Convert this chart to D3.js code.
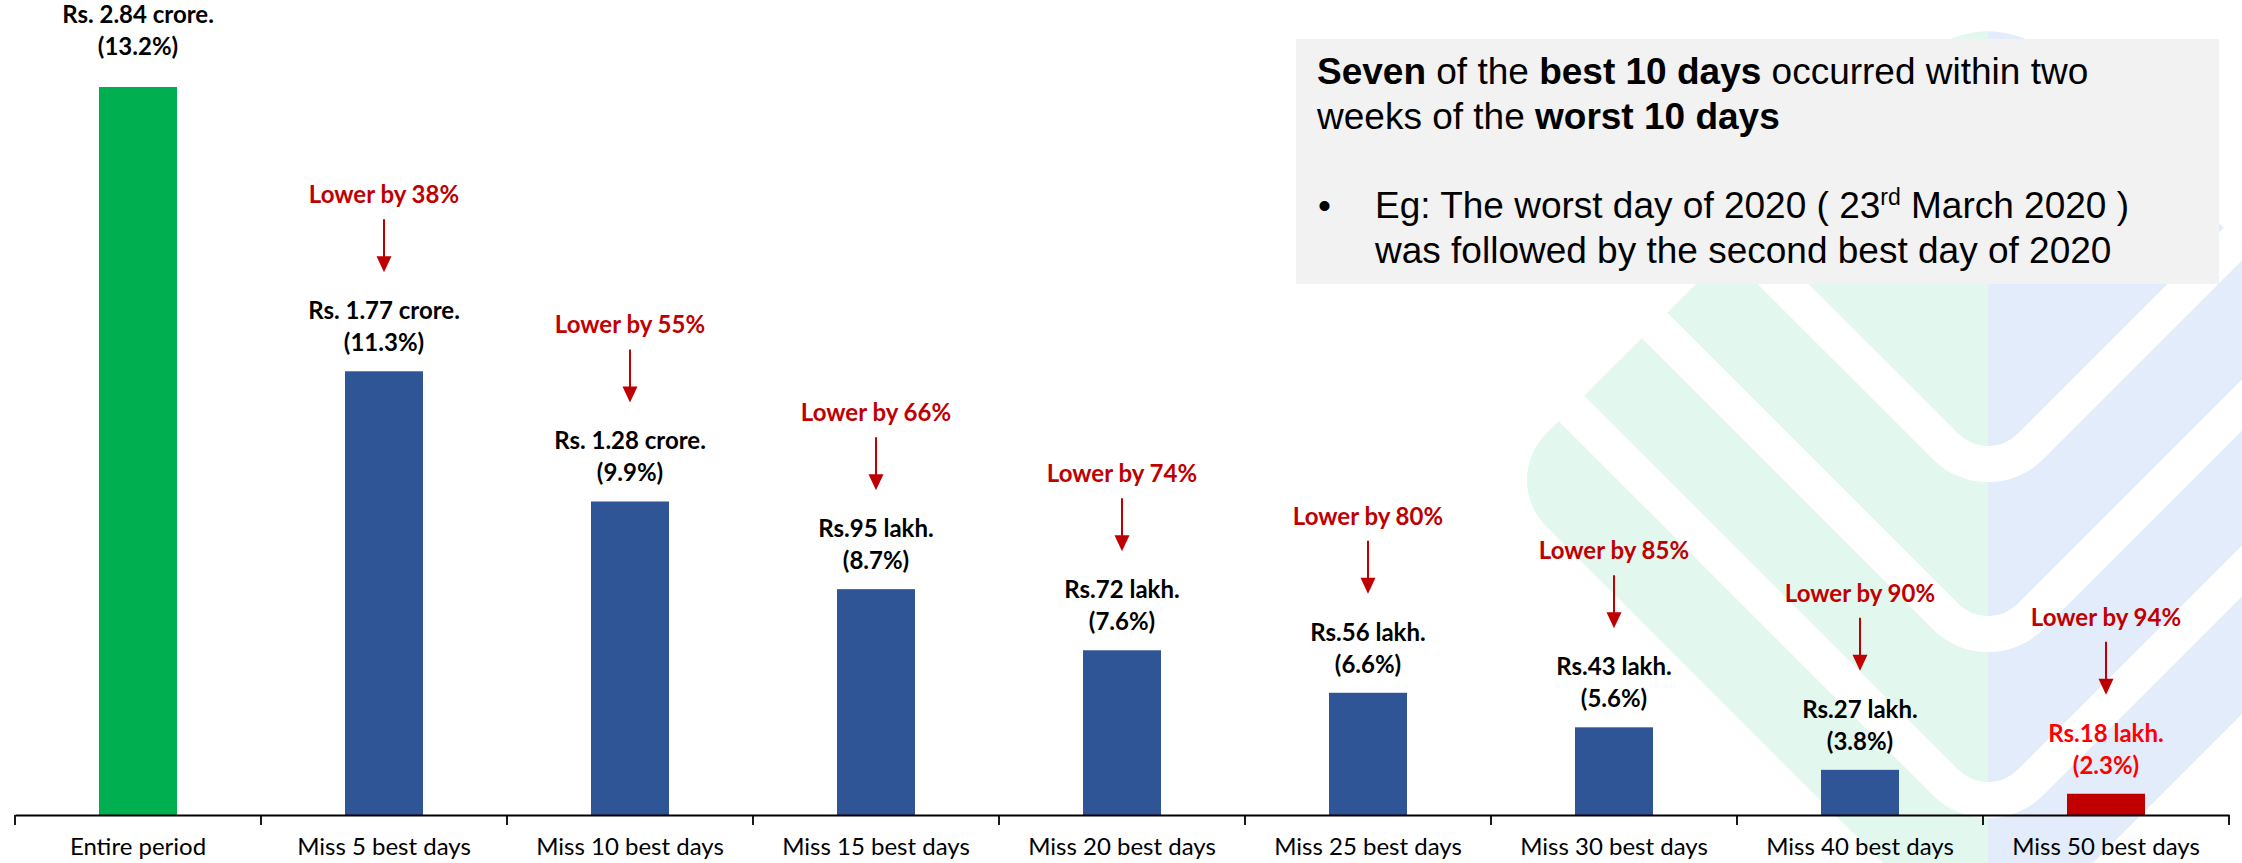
<!DOCTYPE html>
<html><head><meta charset="utf-8">
<script src="https://cdn.jsdelivr.net/npm/d3@7"></script>
<style>
html,body{margin:0;padding:0;background:#fff;}
svg{display:block;}
</style></head>
<body>
<svg id="chart" width="2242" height="863"></svg>
<script>
// ---------- data ----------
const categories = ["Entire period","Miss 5 best days","Miss 10 best days","Miss 15 best days","Miss 20 best days","Miss 25 best days","Miss 30 best days","Miss 40 best days","Miss 50 best days"];
const valuesLakh = [284, 177, 128, 95, 72, 56, 43, 27, 18];
const amountLabels = ["Rs. 2.84 crore.","Rs. 1.77 crore.","Rs. 1.28 crore.","Rs.95 lakh.","Rs.72 lakh.","Rs.56 lakh.","Rs.43 lakh.","Rs.27 lakh.","Rs.18 lakh."];
const returnLabels = ["(13.2%)","(11.3%)","(9.9%)","(8.7%)","(7.6%)","(6.6%)","(5.6%)","(3.8%)","(2.3%)"];
const lowerByPct = [null, 38, 55, 66, 74, 80, 85, 90, 94];

const W = 2242, H = 863;
const svg = d3.select("#chart");

// ---------- scales ----------
const axisY = 815;
const pad = 1 - 78 / 246;
const xStep = d3.scaleBand().domain(categories).range([15, 2229]).padding(0);
const xBar = d3.scaleBand().domain(categories).range([15, 2229]).paddingInner(pad).paddingOuter(pad / 2);
const y = d3.scaleLinear().domain([10, 284]).range([axisY, 87]);

// ---------- watermark (logo) ----------
const wm = svg.append("g").attr("class", "watermark");
const cx = 1988;
function roundedPoly(pts, radii) {
  const n = pts.length;
  let d = "";
  for (let i = 0; i < n; i++) {
    const p0 = pts[(i - 1 + n) % n], p1 = pts[i], p2 = pts[(i + 1) % n];
    const r = radii[i];
    const v1 = [p0[0] - p1[0], p0[1] - p1[1]], v2 = [p2[0] - p1[0], p2[1] - p1[1]];
    const l1 = Math.hypot(...v1), l2 = Math.hypot(...v2);
    const a = [p1[0] + v1[0] / l1 * r, p1[1] + v1[1] / l1 * r];
    const b = [p1[0] + v2[0] / l2 * r, p1[1] + v2[1] / l2 * r];
    d += (i === 0 ? "M" : "L") + a[0] + "," + a[1] + " A" + r + "," + r + " 0 0 1 " + b[0] + "," + b[1] + " ";
  }
  return d + "Z";
}
const diamond = [[cx, -8], [2476, 480], [cx, 968], [1500, 480]];
const diamondPath = roundedPoly(diamond, [95, 65, 95, 65]);
svg.append("defs").append("clipPath").attr("id", "logoClip").append("path").attr("d", diamondPath);
const wmIn = wm.append("g").attr("clip-path", "url(#logoClip)");
wmIn.append("rect").attr("x", 1400).attr("y", -50).attr("width", cx - 1400).attr("height", 1100).attr("fill", "#e2f7ee");
wmIn.append("rect").attr("x", cx).attr("y", -50).attr("width", 600).attr("height", 1100).attr("fill", "#e3ecfb");
const stripeCs = [-1499, -1329, -1163];
stripeCs.forEach(c => {
  const vy = cx + c, r = 60, t = r / Math.SQRT2;
  const x1 = 1300;
  const d = `M${x1},${x1 + c} L${cx - t},${vy - t} A${r},${r} 0 0 0 ${cx + t},${vy - t} L${2 * cx - x1},${x1 + c}`;
  wmIn.append("path").attr("d", d).attr("fill", "none").attr("stroke", "#fff").attr("stroke-width", 36);
});

// ---------- bars ----------
const g = svg.append("g");
g.selectAll("rect.bar").data(categories).join("rect")
  .attr("class", "bar")
  .attr("x", d => xBar(d))
  .attr("width", xBar.bandwidth())
  .attr("y", (d, i) => y(valuesLakh[i]))
  .attr("height", (d, i) => axisY - y(valuesLakh[i]))
  .attr("fill", (d, i) => i === 0 ? "#00b050" : (i === categories.length - 1 ? "#c00000" : "#2f5597"));

// ---------- axis ----------
const axis = d3.axisBottom(xStep).tickSize(0).tickSizeOuter(0);
const ax = svg.append("g").attr("transform", `translate(0,${axisY})`).call(axis);
ax.select(".domain").attr("stroke", "#000").attr("stroke-width", 1.8);
ax.selectAll(".tick text").attr("y", 40).attr("dy", 0)
  .attr("font-family", "Lato, 'Noto Sans', sans-serif").attr("font-size", 24).attr("fill", "#000");
const bounds = categories.map(c => xStep(c)).concat([xStep.range()[1]]);
ax.selectAll("line.bound").data(bounds).join("line").attr("class", "bound")
  .attr("x1", d => d).attr("x2", d => d).attr("y1", 0).attr("y2", 10)
  .attr("stroke", "#000").attr("stroke-width", 1.8);

// ---------- value labels ----------
const labelFont = "Lato, 'Noto Sans', sans-serif";
categories.forEach((c, i) => {
  const cxb = xBar(c) + xBar.bandwidth() / 2;
  const top = y(valuesLakh[i]);
  const lift = i === 0 ? 12 : 0;
  const col = i === categories.length - 1 ? "#ff0000" : "#000";
  const t = g.append("text").attr("text-anchor", "middle").attr("font-family", labelFont)
    .attr("font-weight", 700).attr("font-size", 24).attr("fill", col);
  t.append("tspan").attr("x", cxb).attr("y", top - 52 - lift).text(amountLabels[i]);
  t.append("tspan").attr("x", cxb).attr("y", top - 20 - lift).text(returnLabels[i]);
  if (lowerByPct[i] != null) {
    g.append("text").attr("x", cxb).attr("y", top - 168).attr("text-anchor", "middle")
      .attr("font-family", labelFont).attr("font-weight", 700).attr("font-size", 24)
      .attr("fill", "#c00000").text("Lower by " + lowerByPct[i] + "%");
    g.append("line").attr("x1", cxb).attr("x2", cxb).attr("y1", top - 152).attr("y2", top - 112)
      .attr("stroke", "#c00000").attr("stroke-width", 2);
    g.append("path").attr("d", `M${cxb - 7.5},${top - 115} L${cxb + 7.5},${top - 115} L${cxb},${top - 99} Z`)
      .attr("fill", "#c00000");
  }
});

// ---------- note box ----------
const box = svg.append("g");
box.append("rect").attr("x", 1296).attr("y", 39).attr("width", 2219 - 1296).attr("height", 284 - 39).attr("fill", "#f2f2f2");
const bf = "'Liberation Sans', Arial, sans-serif";
const fs = 37;
const l1 = box.append("text").attr("x", 1317).attr("y", 84).attr("font-family", bf).attr("font-size", fs).attr("fill", "#000");
l1.append("tspan").attr("font-weight", 700).text("Seven");
l1.append("tspan").text(" of the ");
l1.append("tspan").attr("font-weight", 700).text("best 10 days");
l1.append("tspan").text(" occurred within two");
const l2 = box.append("text").attr("x", 1317).attr("y", 129).attr("font-family", bf).attr("font-size", fs).attr("fill", "#000");
l2.append("tspan").text("weeks of the ");
l2.append("tspan").attr("font-weight", 700).text("worst 10 days");
box.append("text").attr("x", 1318).attr("y", 218).attr("font-family", bf).attr("font-size", fs).text("•");
const l3 = box.append("text").attr("x", 1375).attr("y", 218).attr("font-family", bf).attr("font-size", fs).attr("fill", "#000");
l3.append("tspan").text("Eg: The worst day of 2020 ( 23");
l3.append("tspan").attr("dy", -13).attr("font-size", 23).text("rd");
l3.append("tspan").attr("dy", 13).text(" March 2020 )");
box.append("text").attr("x", 1375).attr("y", 263).attr("font-family", bf).attr("font-size", fs).attr("fill", "#000")
  .text("was followed by the second best day of 2020");
</script>
</body></html>
